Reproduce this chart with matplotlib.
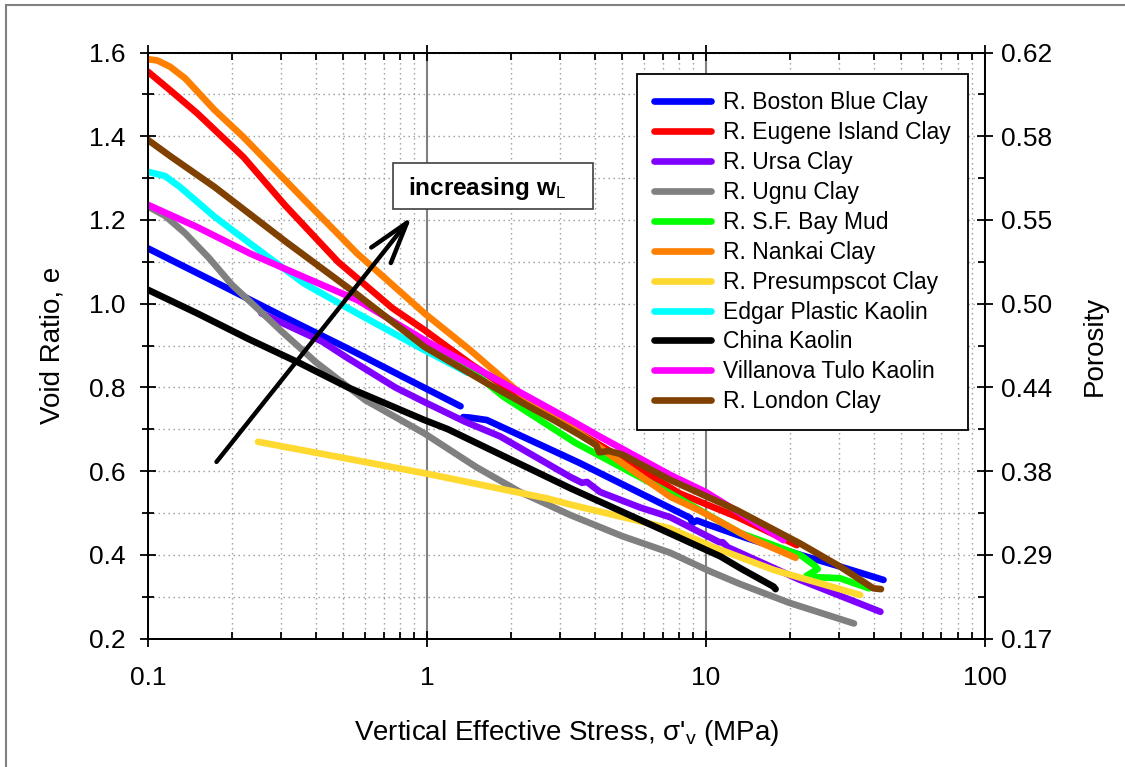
import numpy as np
import matplotlib
matplotlib.use("Agg")
import matplotlib.pyplot as plt
from matplotlib.patches import Rectangle
from matplotlib.ticker import LogLocator, NullFormatter, FixedLocator

plt.rcParams['font.family'] = ['Liberation Sans', 'DejaVu Sans']
plt.rcParams['mathtext.fontset'] = 'custom'
plt.rcParams['mathtext.rm'] = 'Liberation Sans'
plt.rcParams['mathtext.it'] = 'Liberation Sans:italic'
plt.rcParams['mathtext.bf'] = 'Liberation Sans:bold'

# --- data: vertical effective stress (MPa) vs void ratio e ---
boston1_x = [0.1, 0.17, 0.31, 0.52, 0.8, 1.32]
boston1_e = [1.132, 1.055, 0.967, 0.893, 0.829, 0.755]
boston2_x = [1.35, 1.42, 1.64, 3.54, 4.18, 6.0, 8.8, 8.95, 9.3, 10.1, 14, 21.8, 30.3, 43.4]
boston2_e = [0.729, 0.728, 0.722, 0.619, 0.595, 0.543, 0.488, 0.476, 0.482, 0.473, 0.44, 0.400, 0.372, 0.340]

eugene_x = [0.1, 0.12, 0.15, 0.22, 0.31, 0.48, 0.75, 0.98, 1.43, 2.16, 3.5, 5.5, 8.05, 12.9, 21.2]
eugene_e = [1.554, 1.510, 1.455, 1.350, 1.235, 1.100, 0.990, 0.937, 0.857, 0.778, 0.693, 0.614, 0.547, 0.491, 0.423]

ursa_x = [0.255, 0.42, 0.52, 0.77, 0.98, 1.37, 1.83, 3.27, 3.6, 3.75, 4.18, 5.82, 7.45,
          11.2, 11.5, 12, 21.8, 42.3]
ursa_e = [0.977, 0.91, 0.87, 0.80, 0.765, 0.718, 0.683, 0.586, 0.572, 0.574, 0.55, 0.513, 0.49,
          0.43, 0.430, 0.418, 0.340, 0.264]

ugnu_x = [0.1, 0.115, 0.136, 0.165, 0.2, 0.25, 0.3, 0.4, 0.6, 0.98, 1.5, 2.16, 3.27, 5.0, 7.45, 10.4,
          13.3, 20, 34]
ugnu_e = [1.232, 1.21, 1.168, 1.11, 1.045, 0.985, 0.935, 0.86, 0.77, 0.69, 0.61, 0.55, 0.495, 0.445,
          0.405, 0.36, 0.33, 0.285, 0.236]

sfbay_x = [0.95, 1.3, 1.88, 3.4, 7.45, 13.3, 18, 22.0, 24.5, 25.2, 23.0, 24.0, 30.3, 37.7, 38.5]
sfbay_e = [0.905, 0.865, 0.778, 0.668, 0.547, 0.452, 0.42, 0.398, 0.375, 0.366, 0.350, 0.347, 0.344, 0.322, 0.320]

nankai_x = [0.1, 0.108, 0.12, 0.136, 0.173, 0.219, 0.361, 0.562, 0.98, 1.43, 2.16, 3.54, 4.3, 7.45, 9.55, 14.4, 21]
nankai_e = [1.584, 1.581, 1.566, 1.538, 1.463, 1.399, 1.250, 1.120, 0.977, 0.889, 0.786, 0.690, 0.650, 0.539, 0.505, 0.44, 0.393]

presumpscot_x = [0.248, 0.98, 2.69, 3.27, 7.45, 10.6, 17.5, 35.8]
presumpscot_e = [0.670, 0.595, 0.535, 0.52, 0.463, 0.419, 0.364, 0.304]

edgar_x = [0.1, 0.115, 0.13, 0.173, 0.232, 0.361, 0.562, 0.98, 1.4]
edgar_e = [1.315, 1.305, 1.279, 1.208, 1.144, 1.049, 0.977, 0.889, 0.835]

china_x = [0.1, 0.15, 0.2286, 0.35, 0.521, 0.75, 0.98, 1.19, 3.27, 7.45, 11.3, 13.3, 17.5, 17.8]
china_e = [1.033, 0.977, 0.916, 0.858, 0.80, 0.755, 0.722, 0.700, 0.559, 0.451, 0.396, 0.368, 0.324, 0.318]

villanova_x = [0.1, 0.149, 0.232, 0.361, 0.562, 0.98, 1.5, 3.4, 4.18, 7.45, 10, 14, 19]
villanova_e = [1.236, 1.184, 1.120, 1.064, 1.009, 0.913, 0.846, 0.716, 0.682, 0.591, 0.55, 0.49, 0.435]

london_x = [0.1, 0.121, 0.173, 0.312, 0.562, 0.98, 1.64, 2.85, 3.54, 4.05, 4.15, 4.5, 5.0, 7.45,
            12.9, 21.8, 30.3, 39.9, 42.5]
london_e = [1.391, 1.351, 1.279, 1.148, 1.022, 0.897, 0.810, 0.722, 0.686, 0.662, 0.645, 0.648, 0.640, 0.579,
            0.507, 0.427, 0.372, 0.320, 0.318]

series = [
    ("R. Boston Blue Clay", '#0000FF', [(boston1_x, boston1_e), (boston2_x, boston2_e)]),
    ("R. Eugene Island Clay", '#FF0000', [(eugene_x, eugene_e)]),
    ("R. Ursa Clay", '#8000FF', [(ursa_x, ursa_e)]),
    ("R. Ugnu Clay", '#808080', [(ugnu_x, ugnu_e)]),
    ("R. S.F. Bay Mud", '#00FF00', [(sfbay_x, sfbay_e)]),
    ("R. Nankai Clay", '#FF8000', [(nankai_x, nankai_e)]),
    ("R. Presumpscot Clay", '#FFD92F', [(presumpscot_x, presumpscot_e)]),
    ("Edgar Plastic Kaolin", '#00FFFF', [(edgar_x, edgar_e)]),
    ("China Kaolin", '#000000', [(china_x, china_e)]),
    ("Villanova Tulo Kaolin", '#FF00FF', [(villanova_x, villanova_e)]),
    ("R. London Clay", '#804000', [(london_x, london_e)]),
]

# axis ticks
x_ticks = [0.1, 1, 10, 100]
x_labels = ['0.1', '1', '10', '100']
e_ticks = [0.2, 0.4, 0.6, 0.8, 1.0, 1.2, 1.4, 1.6]
e_labels = ['0.2', '0.4', '0.6', '0.8', '1.0', '1.2', '1.4', '1.6']
e_minor = [0.3, 0.5, 0.7, 0.9, 1.1, 1.3, 1.5]
porosity_labels = ['0.17', '0.29', '0.38', '0.44', '0.50', '0.55', '0.58', '0.62']

# arrow "increasing wL" (stress, e)
arrow_start = (0.176, 0.622)
arrow_end = (0.883, 1.208)

fig = plt.figure(figsize=(11.25, 7.67), dpi=100)
ax = fig.add_axes([0.1316, 0.1675, 0.7436, 0.764])

for name, color, parts in series:
    for k, (xs, es) in enumerate(parts):
        ax.plot(xs, es, color=color, lw=4.8, solid_capstyle='round', solid_joinstyle='round',
                label=name if k == 0 else None, zorder=3)

ax.set_xscale('log')
ax.set_xlim(0.1, 100)
ax.set_ylim(0.2, 1.6)
ax.set_xticks(x_ticks, labels=x_labels)
ax.xaxis.set_minor_locator(LogLocator(base=10, subs=np.arange(2, 10)))
ax.xaxis.set_minor_formatter(NullFormatter())
ax.set_yticks(e_ticks, labels=e_labels)
ax.yaxis.set_minor_locator(FixedLocator(e_minor))

dots = (0, (1, 2.6))
ax.grid(which='major', axis='x', color='#808080', lw=1.5, ls='-')
ax.grid(which='minor', axis='x', color='#999999', lw=1, ls=dots)
ax.grid(which='both', axis='y', color='#999999', lw=1, ls=dots)
ax.set_axisbelow(True)

for sp in ax.spines.values():
    sp.set_linewidth(1.3)

ax.tick_params(axis='y', which='major', direction='inout', length=12, width=1.3, labelsize=19, pad=10)
ax.tick_params(axis='y', which='minor', direction='inout', length=9, width=1.3)
ax.tick_params(axis='x', which='major', direction='inout', length=12, width=1.3, labelsize=19, pad=14, top=True)
ax.tick_params(axis='x', which='minor', direction='in', length=5, width=1.3, top=True)

ax.set_xlabel("Vertical Effective Stress, σ'$_\\mathrm{v}$ (MPa)", fontsize=20, labelpad=20)
ax.set_ylabel("Void Ratio, e", fontsize=20, labelpad=17)

ax2 = ax.twinx()
ax2.set_ylim(0.2, 1.6)
ax2.set_yticks(e_ticks, labels=porosity_labels)
ax2.yaxis.set_minor_locator(FixedLocator(e_minor))
ax2.tick_params(axis='y', which='major', direction='inout', length=12, width=1.3, labelsize=19, pad=6)
ax2.tick_params(axis='y', which='minor', direction='in', length=5, width=1.3)
ax2.set_ylabel("Porosity", fontsize=20, labelpad=21)
for sp in ax2.spines.values():
    sp.set_linewidth(1.3)

# arrow and label box
ax.annotate("", xy=arrow_end, xytext=arrow_start,
            arrowprops=dict(arrowstyle="->,head_length=1.5,head_width=0.45", color='black',
                            lw=3.2, mutation_scale=20, shrinkA=0, shrinkB=0), zorder=4)
ax.add_patch(Rectangle((0.2929, 0.7329), 0.2391, 0.0785, transform=ax.transAxes,
                       facecolor='white', edgecolor='#404040', lw=1.2, zorder=5))
ax.text(0.3108, 0.7568, r"$\mathbf{increasing\ w}_{\mathrm{L}}$", transform=ax.transAxes,
        fontsize=17.5, va='baseline', ha='left', zorder=6)

leg = ax.legend(loc='upper right', bbox_to_anchor=(0.980, 0.963), borderaxespad=0,
                fontsize=16.5, handlelength=2.5, handletextpad=0.5, labelspacing=0.3,
                borderpad=0.75, fancybox=False, framealpha=1, edgecolor='black')
leg.get_frame().set_linewidth(1.3)
leg.set_zorder(7)
for h in leg.get_lines():
    h.set_linewidth(4.8)
    h.set_solid_capstyle('round')

# outer frame of the figure
fig.add_artist(Rectangle((6 / 1125, -0.1), 2, 1.1 - 5 / 767, transform=fig.transFigure,
                         fill=False, edgecolor='#808080', lw=1.5, clip_on=False))

fig.savefig("out.png", dpi=100)
